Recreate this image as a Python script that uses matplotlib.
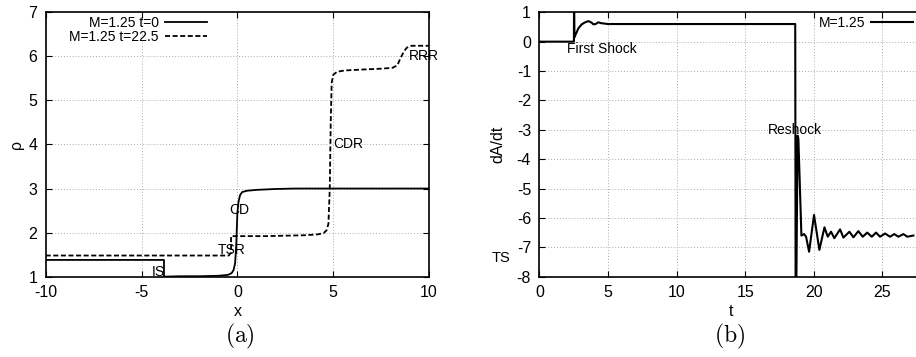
import numpy as np
import matplotlib
matplotlib.use('Agg')
import matplotlib.pyplot as plt

plt.rcParams['font.family'] = ['Liberation Sans', 'DejaVu Sans']
plt.rcParams['mathtext.fontset'] = 'cm'
plt.rcParams['axes.unicode_minus'] = False

# panel (a): density profiles
X_T0 = [-10, -3.83, -3.83, -3, -2, -1, -0.5, -0.3, -0.2, -0.12, -0.06, 0.0,
        0.06, 0.14, 0.25, 0.5, 1.0, 2.0, 3.0, 10]
RHO_T0 = [1.38, 1.38, 1.0, 1.01, 1.01, 1.02, 1.04, 1.08, 1.15, 1.3, 1.7, 2.45,
          2.7, 2.85, 2.92, 2.95, 2.97, 2.99, 3.0, 3.0]
X_T22 = [-10, -0.45, -0.33, -0.33, 0.5, 1.5, 2.5, 3.5, 4.2, 4.5, 4.65, 4.75,
         4.82, 4.87, 4.92, 5.0, 5.2, 5.6, 6.5, 7.5, 8.1, 8.35, 8.5, 8.7, 8.85,
         9.1, 10]
RHO_T22 = [1.48, 1.48, 1.55, 1.92, 1.92, 1.92, 1.93, 1.94, 1.96, 1.99, 2.05,
           2.2, 3.0, 4.5, 5.4, 5.58, 5.65, 5.68, 5.7, 5.72, 5.74, 5.8, 5.95,
           6.12, 6.2, 6.24, 6.24]
LABELS_A = [('IS', -4.1, 1.11), ('TSR', -0.3, 1.61), ('CD', 0.09, 2.51),
            ('CDR', 5.77, 4.0), ('RRR', 9.74, 6.0)]

# panel (b): growth rate
T = [0, 2.52, 2.53, 2.56, 2.7, 2.84, 3.09, 3.3, 3.57, 3.8, 3.94, 4.1, 4.3,
     4.5, 4.66, 5.0, 8, 12, 16, 18.65, 18.68, 18.72, 18.82, 18.88, 19.1, 19.3,
     19.44, 19.66, 20.02, 20.41, 20.78, 21.02, 21.26, 21.5, 21.92, 22.16,
     22.6, 22.89, 23.25, 23.57, 23.9, 24.23, 24.54, 24.83, 25.2, 25.56,
     25.87, 26.17, 26.53, 26.82, 27.26]
DADT = [0, 0, 1.6, 0.15, 0.3, 0.45, 0.59, 0.65, 0.70, 0.65, 0.59, 0.6, 0.66,
        0.63, 0.62, 0.6, 0.6, 0.6, 0.6, 0.6, -9, -9, -3.2, -3.3, -6.6, -6.55,
        -6.64, -7.15, -5.9, -7.09, -6.32, -6.64, -6.47, -6.69, -6.39, -6.67,
        -6.47, -6.66, -6.45, -6.64, -6.5, -6.64, -6.5, -6.64, -6.53, -6.64,
        -6.55, -6.64, -6.55, -6.64, -6.6]
LABELS_B = [('First Shock', 4.53, -0.26), ('Reshock', 18.61, -3.0)]

FS = 10
GRID = dict(color='#aaaaaa', lw=0.7, ls=(0, (1, 2)))


def style(ax):
    ax.grid(True, **GRID)
    ax.set_axisbelow(True)
    ax.tick_params(direction='in', top=True, right=True, length=4.5,
                   width=0.8, labelsize=11.5, pad=6)
    for s in ax.spines.values():
        s.set_linewidth(1.2)


fig = plt.figure(figsize=(9.16, 3.57), dpi=100)

ax = fig.add_axes([0.0499, 0.225, 0.4185, 0.7406])
ax.plot(X_T0, RHO_T0, color='black', lw=1.3, label='M=1.25 t=0')
ax.plot(X_T22, RHO_T22, color='black', lw=1.3, ls=(0, (2.8, 1.4)),
        label='M=1.25 t=22.5')
ax.set_xlim(-10, 10)
ax.set_ylim(1, 7)
ax.set_xticks([-10, -5, 0, 5, 10])
ax.set_yticks(range(1, 8))
style(ax)
for s, x, y in LABELS_A:
    ax.text(x, y, s, ha='center', va='center', fontsize=FS)
ax.set_xlabel('x', fontsize=11.5, labelpad=3)
ax.set_ylabel('ρ', fontsize=11.5, labelpad=3)
ax.legend(loc='upper right', bbox_to_anchor=(0.42, 0.985), frameon=False,
          markerfirst=False, fontsize=FS, labelspacing=0.0, handlelength=3.0,
          handletextpad=0.45, borderpad=0, borderaxespad=0)
fig.text(0.262, 0.057, r'$\mathrm{(a)}$', ha='center', va='center', fontsize=17)

bx = fig.add_axes([0.5888, 0.225, 0.4194, 0.7406])
bx.plot(T, DADT, color='black', lw=1.5, label='M=1.25')
bx.set_xlim(0, 28)
bx.set_ylim(-8, 1)
bx.set_xticks([0, 5, 10, 15, 20, 25])
bx.set_yticks(range(-8, 2))
style(bx)
for s, x, y in LABELS_B:
    bx.text(x, y, s, ha='center', va='center', fontsize=FS)
bx.text(-2.83, -7.37, 'TS', ha='center', va='center', fontsize=10.5,
        clip_on=False)
bx.set_xlabel('t', fontsize=11.5, labelpad=3)
bx.set_ylabel('dA/dt', fontsize=11.5, labelpad=8)
bx.legend(loc='upper right', bbox_to_anchor=(0.973, 0.985), frameon=False,
          markerfirst=False, fontsize=FS, labelspacing=0.0, handlelength=3.0,
          handletextpad=0.45, borderpad=0, borderaxespad=0)
fig.text(0.796, 0.057, r'$\mathrm{(b)}$', ha='center', va='center', fontsize=17)

fig.savefig('out.png', dpi=100)
